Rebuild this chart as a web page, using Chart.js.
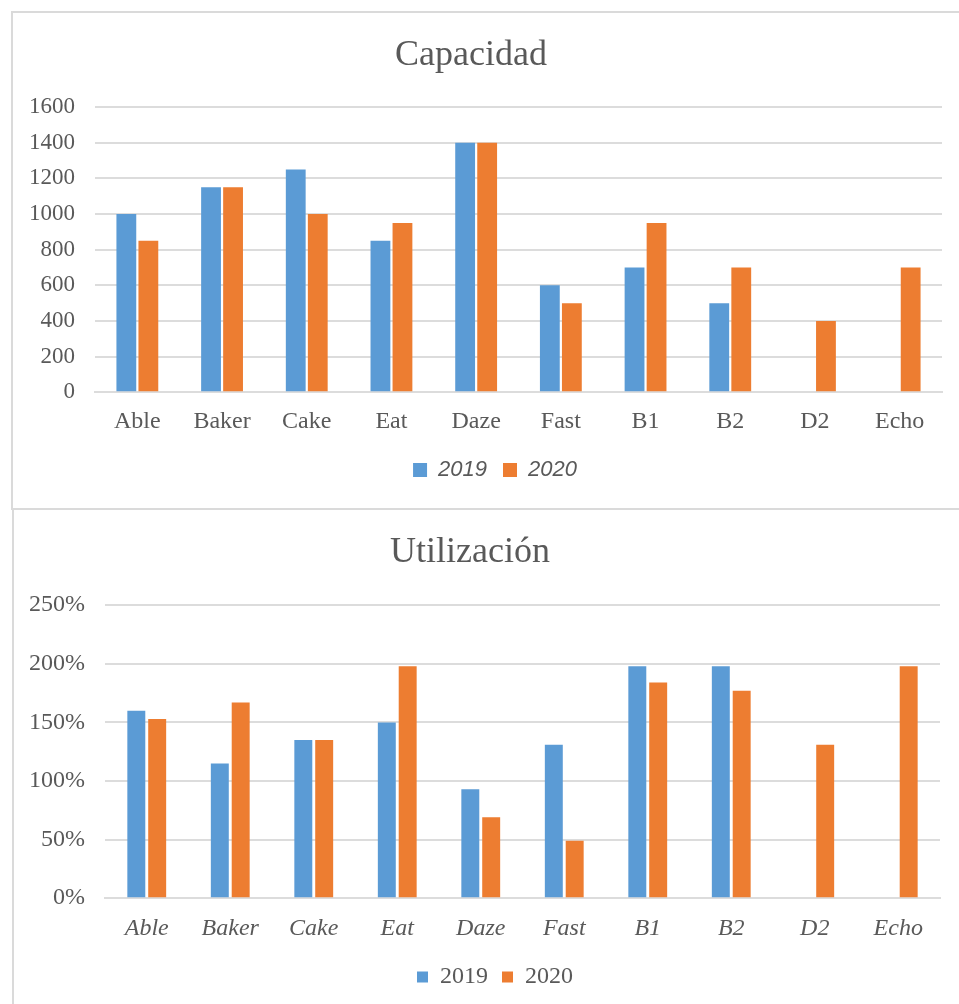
<!DOCTYPE html>
<html>
<head>
<meta charset="utf-8">
<script src="https://cdn.jsdelivr.net/npm/chart.js@4"></script>
<style>
  html, body { margin: 0; padding: 0; background: #fff; overflow: hidden; }
  #page { position: relative; width: 959px; height: 1004px; }
  .frame { position: absolute; border: 2px solid #dadada; box-sizing: border-box; }
  #frameTop { left: 11px; top: 11px; width: 960px; height: 499px; }
  #frameBottom { left: 12px; top: 508px; width: 960px; height: 520px; }
  canvas { position: absolute; left: 0; }
  #capChart { top: 0; }
  #utilChart { top: 509px; }
</style>
</head>
<body>
<div id="page">
  <div class="frame" id="frameTop"></div>
  <div class="frame" id="frameBottom"></div>
  <canvas id="capChart" width="959" height="509"></canvas>
  <canvas id="utilChart" width="959" height="495"></canvas>
</div>
<script>
const categories = ['Able', 'Baker', 'Cake', 'Eat', 'Daze', 'Fast', 'B1', 'B2', 'D2', 'Echo'];
const seriesNames = ['2019', '2020'];

// Capacidad
const capacity2019 = [1000, 1150, 1250, 850, 1400, 600, 700, 500, null, null];
const capacity2020 = [850, 1150, 1000, 950, 1400, 500, 950, 700, 400, 700];
const capacityTicks = [0, 200, 400, 600, 800, 1000, 1200, 1400, 1600];

// Utilización (%)
const utilization2019 = [160, 115, 135, 150, 93, 131, 198, 198, null, null];
const utilization2020 = [153, 167, 135, 198, 69, 49, 184, 177, 131, 198];
const utilizationTicks = [0, 50, 100, 150, 200, 250];

const BLUE = '#5b9bd5';
const ORANGE = '#ed7d31';
const GRID = '#dcdcdc';
const TEXT = '#595959';
const SERIF = "'Liberation Serif', 'DejaVu Serif', serif";
const SANS = "'Liberation Sans', Arial, sans-serif";

Chart.defaults.animation = false;
Chart.defaults.responsive = false;
Chart.defaults.color = TEXT;

// the legend in the original sits a bit right of the canvas centre
const legendShift = {
    id: 'legendShift',
    afterLayout(chart, args, opts) {
        const dx = opts.dx || 0;
        chart.legend.left += dx;
        chart.legend.right += dx;
    }
};

function makeChart(id, cfg) {
    const ctx = document.getElementById(id).getContext('2d');
    return new Chart(ctx, {
        type: 'bar',
        plugins: [legendShift],
        data: {
            labels: categories,
            datasets: [{
                label: seriesNames[0],
                data: cfg.a,
                backgroundColor: BLUE,
                categoryPercentage: cfg.catPct,
                barPercentage: cfg.barPct
            }, {
                label: seriesNames[1],
                data: cfg.b,
                backgroundColor: ORANGE,
                categoryPercentage: cfg.catPct,
                barPercentage: cfg.barPct
            }]
        },
        options: {
            layout: { padding: cfg.padding },
            plugins: {
                legendShift: { dx: cfg.legendDx },
                title: {
                    display: true,
                    text: cfg.title,
                    color: TEXT,
                    font: { family: SERIF, size: 36, weight: 'normal' },
                    padding: cfg.titlePadding
                },
                legend: {
                    position: 'bottom',
                    labels: {
                        color: TEXT,
                        boxWidth: cfg.legendBox,
                        boxHeight: cfg.legendBox,
                        padding: cfg.legendPadding,
                        font: cfg.legendFont
                    }
                },
                tooltip: { enabled: false }
            },
            scales: {
                x: {
                    grid: { display: false },
                    border: { display: true, color: GRID, width: 2 },
                    ticks: {
                        color: TEXT,
                        padding: cfg.xPad,
                        maxRotation: 0,
                        font: cfg.xFont
                    }
                },
                y: {
                    min: 0,
                    max: cfg.ticks[cfg.ticks.length - 1],
                    afterBuildTicks: (scale) => {
                        scale.ticks = cfg.ticks.map(v => ({ value: v }));
                    },
                    afterFit: (scale) => { scale.width = cfg.axisWidth; },
                    grid: { color: GRID, lineWidth: 2, drawTicks: false },
                    border: { display: false },
                    ticks: {
                        color: TEXT,
                        padding: 20,
                        font: cfg.yFont,
                        callback: cfg.fmt
                    }
                }
            }
        }
    });
}

makeChart('capChart', {
    title: 'Capacidad',
    a: capacity2019,
    b: capacity2020,
    ticks: capacityTicks,
    fmt: (v) => v,
    catPct: 0.52,
    barPct: 0.9,
    padding: { left: 0, right: 17, top: 0, bottom: 18 },
    titlePadding: { top: 34, bottom: 30 },
    axisWidth: 95,
    xPad: 7,
    legendBox: 14,
    legendPadding: 16,
    legendDx: 24,
    legendFont: { family: SANS, size: 22, style: 'italic' },
    xFont: { family: SERIF, size: 24 },
    yFont: { family: SERIF, size: 23 }
});

makeChart('utilChart', {
    title: 'Utilización',
    a: utilization2019,
    b: utilization2020,
    ticks: utilizationTicks,
    fmt: (v) => v + '%',
    catPct: 0.5,
    barPct: 0.86,
    padding: { left: 0, right: 19, top: 0, bottom: 5 },
    titlePadding: { top: 22, bottom: 31 },
    axisWidth: 105,
    xPad: 8,
    legendBox: 11,
    legendPadding: 14,
    legendDx: 25,
    legendFont: { family: SERIF, size: 24 },
    xFont: { family: SERIF, size: 24, style: 'italic' },
    yFont: { family: SERIF, size: 24 }
});
</script>
</body>
</html>
